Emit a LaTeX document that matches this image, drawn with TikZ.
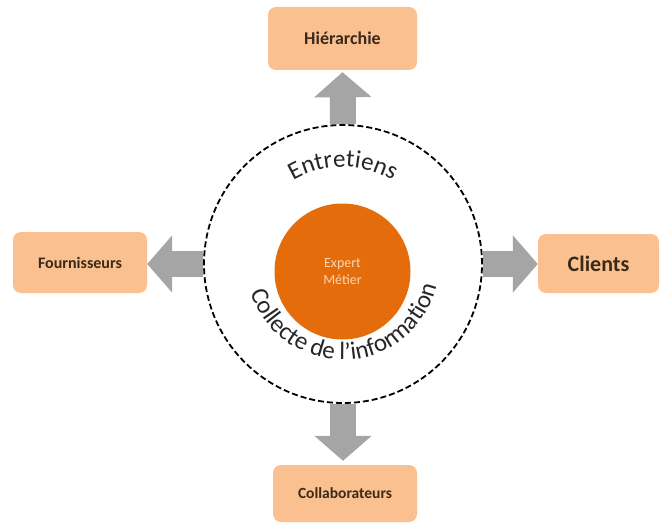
\documentclass[tikz,border=0pt]{standalone}
\usepackage{fontspec}
\setmainfont{Carlito}
\usetikzlibrary{arrows.meta,decorations.text,backgrounds}
\definecolor{boxfill}{HTML}{FAC090}
\definecolor{boxtext}{HTML}{3B2A1A}
\definecolor{core}{HTML}{E46C0A}
\definecolor{coretext}{HTML}{FCD5B4}
\definecolor{arrowgray}{HTML}{A5A5A5}
\definecolor{ringtext}{HTML}{262626}
\begin{document}
\begin{tikzpicture}[x=1pt,y=-1pt,
  box/.style={fill=boxfill, rounded corners=8pt, text=boxtext, inner sep=0pt, align=center},
  bigarrow/.style={draw=arrowgray, line width=26pt, -{Triangle[width=56pt,length=25pt]}},
  ring/.style={circle, draw=black, line width=1.8pt, dash pattern=on 6pt off 3pt, minimum size=278pt, inner sep=0pt}]
\useasboundingbox (0,0) rectangle (661,524);
% boxes
\node[box, minimum width=149pt, minimum height=63pt, font=\fontsize{18}{20}\selectfont\bfseries] (hier) at (342.5,38.5) {Hiérarchie};
\node[box, minimum width=134pt, minimum height=61pt, font=\fontsize{16}{18}\selectfont\bfseries] (fourn) at (80,262.5) {Fournisseurs};
\node[box, minimum width=121pt, minimum height=59pt, font=\fontsize{22}{24}\selectfont\bfseries] (clients) at (598.5,263.5) {Clients};
\node[box, minimum width=144pt, minimum height=57pt, font=\fontsize{15.5}{18}\selectfont\bfseries] (collab) at (345,493.5) {Collaborateurs};
% ring and core
\node[ring] (outer) at (343,264) {};
\node[circle, fill=core, minimum size=136pt, inner sep=0pt, text=coretext, align=center, font=\fontsize{14}{17}\selectfont] (core) at (342.5,271.5) {Expert\\Métier};
% arrows
\begin{scope}[on background layer]
\fill[white] (0,0) rectangle (661,524);
\draw[bigarrow, shorten >=2pt] (outer.north) -- (hier.south);
\draw[bigarrow] (outer.west) -- (outer.west -| fourn.east);
\draw[bigarrow] (outer.east) -- (outer.east -| clients.west);
\draw[bigarrow, shorten >=4pt] (outer.south) -- (outer.south |- collab.north);
\end{scope}
% curved texts
\path[decoration={text along path, text align=center,
  text={|\fontsize{25}{25}\selectfont\color{ringtext}|Entretiens}}, decorate]
  (outer.center) ++(124:97pt) arc[start angle=124, end angle=56, radius=97pt];
\path[decoration={text along path, text align=center,
  text={|\fontsize{25}{25}\selectfont\color{ringtext}|Collecte de l’information}}, decorate]
  (outer.center) ++(190:96pt) arc[start angle=190, end angle=354, radius=96pt];
\end{tikzpicture}
\end{document}
